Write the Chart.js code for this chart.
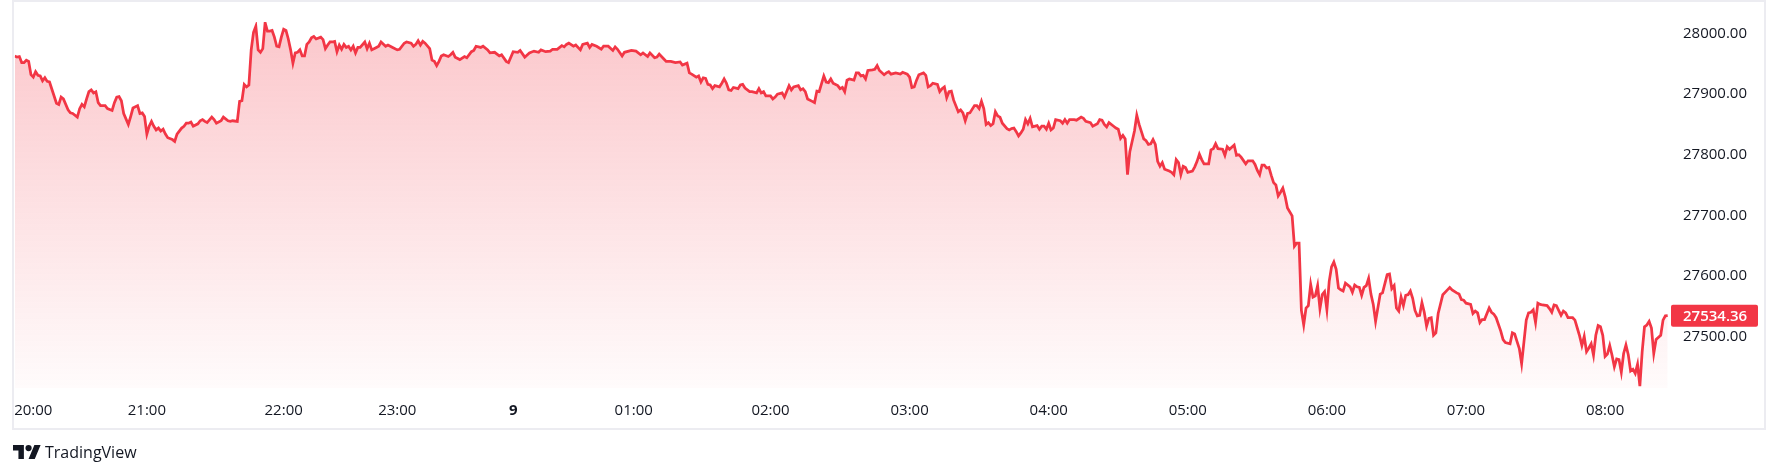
<!DOCTYPE html>
<html>
<head>
<meta charset="utf-8">
<title>BTC line</title>
<script src="https://cdn.jsdelivr.net/npm/chart.js@4.4.1/dist/chart.umd.min.js"></script>
<style>
  html, body { margin: 0; padding: 0; background: #ffffff; }
  body { width: 1778px; height: 476px; position: relative; overflow: hidden; font-family: 'Open Sans', sans-serif; }
  #frame { position: absolute; left: 12px; top: 0; width: 1754px; height: 430px; box-sizing: border-box; border: 2px solid #ececf1; }
  #chart { position: absolute; left: 0; top: 0; }
  #logo { position: absolute; left: 13px; top: 445px; }
  #brand { position: absolute; left: 45px; top: 441px; color: #131722; font-size: 16px; line-height: 22px; }
</style>
</head>
<body>
<div id="frame"></div>
<canvas id="chart" width="1778" height="476"></canvas>
<svg id="logo" width="28" height="14" viewBox="0 4 36 18"><path fill="#131722" d="M14 22H7V11H0V4h14v18zM28 22h-8l7.5-18h8L28 22z"/><circle fill="#131722" cx="20" cy="8" r="4"/></svg>
<div id="brand">TradingView</div>
<script>
// bar index (1-minute bars, gaps compressed like the source chart)
const hourLabels = ['20:00', '21:00', '22:00', '23:00', '9', '01:00', '02:00', '03:00', '04:00', '05:00', '06:00', '07:00', '08:00'];
const hourBars = [8, 57, 116, 165, 215, 267, 326, 386, 446, 506, 566, 626, 686];
const priceTicks = [27500, 27600, 27700, 27800, 27900, 28000];

const bars = [
    0, 1, 2, 3, 4, 5, 6, 7, 8, 9, 10, 11, 12, 13, 14, 15, 18, 19, 20, 21, 23, 24, 25, 27, 28, 29, 30, 31, 32, 33, 34, 35, 36, 37, 39, 40,
    42, 43, 44, 45, 46, 47, 49, 50, 51, 53, 54, 55, 56, 57, 58, 59, 60, 61, 62, 63, 64, 65, 66, 68, 69, 70, 72, 73, 74, 75, 76, 77, 79, 80,
    81, 82, 83, 85, 86, 87, 89, 90, 92, 93, 94, 96, 97, 98, 99, 100, 101, 102, 103, 104, 105, 106, 107, 108, 109, 110, 111, 112, 113, 114,
    115, 116, 117, 118, 119, 120, 121, 122, 123, 124, 125, 126, 127, 128, 129, 130, 132, 133, 134, 135, 136, 137, 138, 139, 140, 141, 142,
    143, 144, 145, 146, 147, 148, 149, 151, 152, 153, 154, 156, 157, 158, 160, 161, 163, 165, 166, 168, 169, 171, 172, 173, 174, 175, 176,
    177, 179, 180, 181, 182, 183, 184, 185, 187, 188,
    189, 190, 192, 194, 195, 197, 198, 199, 201, 202, 204, 205, 207, 209, 210, 212, 213, 215, 217, 218, 220, 222, 224, 226, 227, 229, 231,
    232, 234, 236, 237, 238, 239, 241, 242, 244, 245, 247, 248, 249, 251, 253, 254, 256, 258, 259, 260, 262, 263, 266, 268, 270, 271, 273,
    274, 276, 277, 278, 280, 281, 283, 285, 287, 288, 290, 291, 292, 294, 295, 296, 297, 298, 299, 300, 301, 302, 304, 305, 306, 307, 308,
    309, 310, 312, 313, 314, 315, 317, 318, 320, 321, 322, 323, 324, 326, 327, 328, 329, 331, 332, 334, 335, 336, 338, 339, 340, 341, 342,
    344, 345, 346, 347, 349, 350, 351, 352, 353, 355, 356, 357, 358, 359, 360, 362, 363, 364, 365, 366, 367, 368, 370, 371, 372, 373, 375,
    376, 377, 378, 380, 382,
    383, 385, 386, 387, 388, 389, 390, 392, 393, 394, 395, 396, 398, 399, 400, 401, 402, 403, 404, 405, 407, 408, 409, 410, 411, 412, 414,
    415, 416, 417, 418, 419, 420, 421, 422, 423, 424, 425, 426, 428, 429, 430, 431, 432, 433, 434, 435, 436, 437, 438, 439, 441, 442, 443,
    444, 445, 446, 447, 448, 449, 451, 452, 453, 454, 455, 457, 458, 460, 461, 462, 464, 465, 467, 468, 469, 470, 471, 472, 474, 475, 476,
    477, 478, 479, 480, 481, 483, 484, 485, 486, 487, 488, 489, 490, 491, 492, 493, 494, 495, 496, 498, 499, 500, 501, 502, 503, 504, 505,
    506, 508, 509, 510, 511, 512, 513, 515, 516, 517, 518, 519, 521, 522, 523, 524, 526, 527, 528, 529, 531, 532, 534, 535, 536, 537, 538,
    539, 540, 541, 542, 543, 544, 545, 546, 547, 548, 549,
    551, 552, 553, 554, 555, 556, 557, 558, 559, 560, 561, 562, 563, 564, 565, 566, 567, 568, 569, 570, 571, 572, 573, 574, 576, 577, 578,
    579, 580, 581, 582, 583, 584, 585, 586, 587, 589, 590, 592, 593, 594, 595, 596, 597, 598, 599, 600, 601, 602, 603, 604, 605, 606, 607,
    608, 609, 610, 611, 612, 613, 614, 616, 618, 619, 620, 622, 623, 624, 625, 626, 628, 629, 630, 631, 632, 633, 634, 636, 637, 638, 639,
    641, 642, 643, 645, 646, 647, 648, 649, 650, 651, 652, 653, 654, 655, 656, 657, 658, 659, 661, 662, 663, 664, 665, 667, 668, 669, 670,
    672, 673, 674, 675, 676, 677, 678, 679, 680, 681, 682, 683, 684, 685, 686, 687, 688, 689, 690, 691, 692, 693, 694, 695, 696, 697, 698,
    699, 700, 701, 702, 703, 704, 705, 706, 707, 708, 710, 711, 712, 713
];

const prices = [
    27963, 27961, 27962, 27952, 27952, 27956, 27954, 27932, 27928, 27937, 27931, 27930, 27922, 27927, 27921, 27920, 27885, 27883, 27895,
    27892, 27874, 27869, 27868, 27862, 27876, 27883, 27879, 27892, 27904, 27907, 27902, 27904, 27886, 27881, 27881, 27876,
    27873, 27886, 27895, 27896, 27889, 27868, 27850, 27863, 27877, 27881, 27868, 27869, 27863, 27834, 27847, 27855, 27847, 27841, 27844,
    27839, 27842, 27834, 27828, 27825, 27822, 27834, 27844, 27847, 27852, 27852, 27854, 27847, 27851, 27856,
    27858, 27855, 27853, 27862, 27858, 27852, 27856, 27862, 27856, 27855, 27856, 27855, 27888, 27889, 27916, 27912, 27915, 27973, 28002,
    28012, 27973, 27969, 27975, 28018, 28004, 28004, 28005, 27994, 27979, 27978,
    27994, 28007, 28005, 27991, 27973, 27951, 27968, 27969, 27973, 27963, 27963, 27982, 27986, 27993, 27995, 27991, 27994, 27990, 27975,
    27981, 27986, 27986, 27987, 27970, 27981, 27974, 27982,
    27977, 27979, 27973, 27979, 27968, 27977, 27977, 27986, 27975, 27984, 27973, 27977, 27979, 27986, 27979, 27981, 27977, 27973, 27974,
    27984, 27986, 27984, 27979, 27982, 27988, 27981, 27987,
    27984, 27975, 27956, 27954, 27947, 27954, 27963, 27965, 27962, 27965,
    27969, 27961, 27957, 27962, 27960, 27970, 27972, 27979, 27977, 27979, 27973, 27968, 27969, 27963, 27965, 27954, 27952, 27970, 27969,
    27972, 27961, 27968, 27971, 27969, 27973, 27970, 27971,
    27974, 27974, 27980, 27978, 27982, 27984, 27979, 27981, 27973, 27982, 27984, 27977, 27982, 27979, 27974, 27979, 27979, 27972, 27978,
    27974, 27963, 27969, 27972, 27971, 27965, 27968, 27962,
    27968, 27960, 27961, 27966, 27958, 27954, 27954, 27952, 27953, 27948, 27951, 27935, 27933, 27928, 27930, 27920, 27927, 27926, 27916,
    27915, 27909, 27914, 27912, 27918, 27925, 27918, 27907,
    27906, 27911, 27909, 27915, 27916, 27910, 27904, 27904, 27902, 27909, 27902, 27904, 27897, 27897, 27892, 27895, 27900, 27902, 27895,
    27914, 27907, 27912, 27914, 27907, 27909, 27904, 27892,
    27888, 27886, 27905, 27904, 27930, 27920, 27919, 27925, 27918, 27914, 27909, 27911, 27904, 27923, 27925, 27923, 27935, 27935, 27930,
    27931, 27925, 27939, 27940, 27941, 27947, 27939, 27932,
    27935, 27937, 27933, 27935, 27933,
    27936, 27933, 27928, 27911, 27912, 27923, 27932, 27935, 27931, 27912, 27914, 27918, 27916, 27904, 27909, 27912, 27894, 27904, 27905,
    27890, 27871, 27874, 27869, 27856, 27868, 27869, 27881,
    27881, 27876, 27888, 27876, 27850, 27853, 27848, 27851, 27871, 27864, 27862, 27852, 27843, 27841, 27843, 27844, 27838, 27831, 27836,
    27842, 27858, 27851, 27860, 27846, 27848, 27842, 27847,
    27847, 27842, 27852, 27841, 27844, 27858, 27856, 27852, 27858, 27852, 27858, 27858, 27857, 27862, 27860, 27855, 27853, 27847, 27851,
    27858, 27857, 27850, 27846, 27853, 27847, 27844, 27842,
    27827, 27832, 27826, 27767, 27805, 27839, 27865, 27850, 27838, 27826, 27823, 27817, 27818, 27825, 27817, 27789, 27781, 27787, 27776,
    27773, 27771, 27767, 27792, 27787, 27767, 27781, 27779,
    27771, 27773, 27780, 27789, 27801, 27792, 27785, 27785, 27808, 27810, 27818, 27810, 27809, 27799, 27813, 27809, 27816, 27799, 27800,
    27796, 27785, 27790, 27790, 27784, 27774, 27767, 27783,
    27783, 27778, 27779, 27766, 27754, 27750, 27732, 27738, 27745, 27731, 27712,
    27699, 27649, 27654, 27654, 27543, 27519, 27547, 27551, 27586, 27565, 27567, 27584, 27546, 27569, 27574, 27544, 27591, 27615, 27623,
    27611, 27580, 27577, 27575, 27588, 27582, 27573, 27585,
    27582, 27581, 27568, 27581, 27584, 27596, 27570, 27553, 27525, 27570, 27572, 27602, 27603, 27579, 27584, 27547, 27542, 27565, 27551,
    27568, 27569, 27575, 27563, 27543, 27534, 27535, 27556,
    27540, 27517, 27530, 27531, 27502, 27506, 27538, 27569, 27577, 27581, 27577, 27572, 27570, 27561, 27560, 27555, 27553, 27538, 27542,
    27539, 27523, 27528, 27528, 27547, 27540, 27537, 27531,
    27509, 27495, 27490, 27488, 27506, 27504, 27492, 27480, 27455, 27491, 27527, 27539, 27540, 27544, 27523, 27555, 27553, 27552, 27551,
    27546, 27540, 27552, 27551, 27535, 27542, 27539, 27531,
    27531, 27527, 27514, 27501, 27485, 27500, 27475, 27481, 27488, 27469, 27502, 27518, 27516, 27502, 27467, 27471, 27485, 27469, 27450,
    27463, 27462, 27441, 27472, 27486, 27470, 27443, 27446,
    27439, 27454, 27418, 27475, 27516, 27519, 27525, 27514, 27472, 27495, 27502, 27527, 27534, 27534.36
];

const lineColor = '#f23645';
const axisText = '#131722';

const lastPriceTag = {
    id: 'lastPriceTag',
    afterDraw(chart) {
        const { ctx, chartArea, scales } = chart;
        const last = prices[prices.length - 1];
        const py = scales.y.getPixelForValue(last);
        ctx.save();
        ctx.fillStyle = lineColor;
        ctx.beginPath();
        ctx.roundRect(chartArea.right + 1, py - 11, 87, 22, 2);
        ctx.fill();
        ctx.fillStyle = '#ffffff';
        ctx.font = '600 15px "Open Sans"';
        ctx.textAlign = 'left';
        ctx.textBaseline = 'middle';
        ctx.fillText(last.toFixed(2), chartArea.right + 13, py + 1);
        ctx.restore();
    }
};

new Chart(document.getElementById('chart'), {
    type: 'line',
    data: {
        datasets: [{
            data: prices.map((p, i) => ({ x: bars[i], y: p })),
            borderColor: lineColor,
            borderWidth: 2.75,
            pointRadius: 0,
            tension: 0,
            fill: 'start',
            backgroundColor: (c) => {
                const area = c.chart.chartArea;
                if (!area) return 'rgba(242, 54, 69, 0.15)';
                const g = c.chart.ctx.createLinearGradient(0, area.top, 0, area.bottom);
                g.addColorStop(0, 'rgba(242, 54, 69, 0.28)');
                g.addColorStop(1, 'rgba(242, 54, 69, 0.02)');
                return g;
            }
        }]
    },
    options: {
        responsive: false,
        animation: false,
        layout: { padding: { left: 14, top: 4, right: 0, bottom: 47 } },
        plugins: { legend: { display: false }, tooltip: { enabled: false } },
        scales: {
            x: {
                type: 'linear',
                min: 0,
                max: 714,
                grid: { display: false, drawTicks: false },
                border: { display: false },
                afterBuildTicks: (s) => { s.ticks = hourBars.map(v => ({ value: v })); },
                afterFit: (s) => { s.height = 41; },
                ticks: {
                    autoSkip: false,
                    maxRotation: 0,
                    padding: 14,
                    color: axisText,
                    font: (c) => ({
                        family: 'Open Sans',
                        size: 15,
                        weight: c.tick && hourLabels[hourBars.indexOf(c.tick.value)] === '9' ? 'bold' : 'normal'
                    }),
                    callback: (v) => hourLabels[hourBars.indexOf(v)] ?? ''
                }
            },
            y: {
                position: 'right',
                min: 27415,
                max: 28019,
                grid: { display: false, drawTicks: false },
                border: { display: false },
                afterBuildTicks: (s) => { s.ticks = priceTicks.map(v => ({ value: v })); },
                afterFit: (s) => { s.width = 108; },
                ticks: {
                    padding: 13,
                    crossAlign: 'near',
                    color: axisText,
                    font: { family: 'Open Sans', size: 15 },
                    callback: (v) => v.toFixed(2)
                }
            }
        }
    },
    plugins: [lastPriceTag]
});
</script>
</body>
</html>
